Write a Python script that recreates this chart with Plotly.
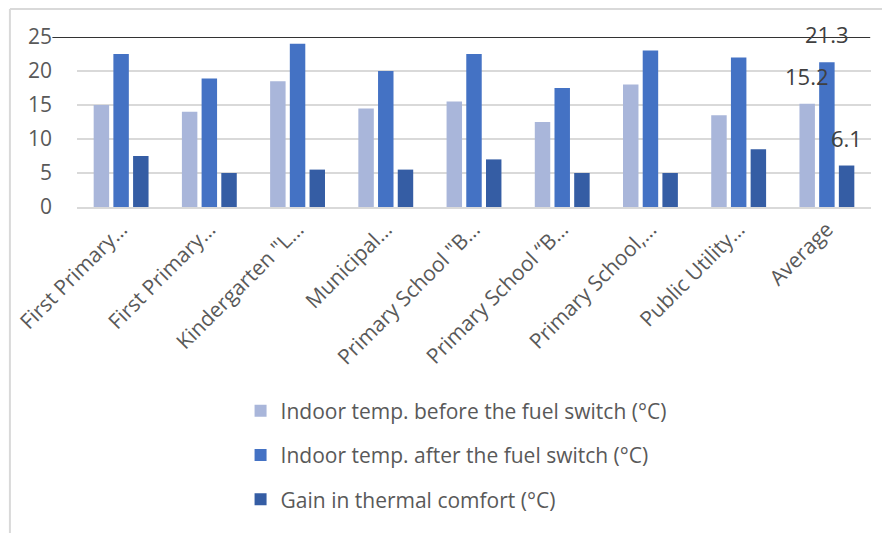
import plotly.graph_objects as go

categories = ["First Primary…", "First Primary…", "Kindergarten \"L…", "Municipal…",
              "Primary School \"B…", "Primary School “B…", "Primary School,…",
              "Public Utility…", "Average"]
before = [15.0, 14.0, 18.5, 14.5, 15.5, 12.5, 18.0, 13.5, 15.2]
after = [22.5, 18.9, 24.0, 20.0, 22.5, 17.5, 23.0, 22.0, 21.3]
gain = [7.5, 5.0, 5.5, 5.5, 7.0, 5.0, 5.0, 8.5, 6.1]
series_names = ["Indoor temp. before the fuel switch (°C)",
                "Indoor temp. after the fuel switch (°C)",
                "Gain in thermal comfort (°C)"]
colors = ["#A9B6DA", "#4472C4", "#355DA4"]
yticks = [0, 5, 10, 15, 20, 25]

x = list(range(len(categories)))
FONT = "Open Sans, Lato, sans-serif"
GRAY = "#595959"

fig = go.Figure()
for i, (name, vals, col) in enumerate(zip(series_names, [before, after, gain], colors)):
    fig.add_trace(go.Bar(x=x, y=vals, name=name, marker_color=col,
                         marker_line_width=0, legendgroup=f"g{i}"))

# data labels only for the "Average" category
last = len(categories) - 1
for shift, vals in zip([-20, 0, 20], [before, after, gain]):
    fig.add_annotation(x=last, y=vals[last], text=f"{vals[last]:.1f}", showarrow=False,
                       xshift=shift, yshift=28, font=dict(family=FONT, size=22, color="#404040"))

# dark line at top of axis
fig.add_shape(type="line", xref="paper", yref="y", x0=-0.031, x1=0.999, y0=25, y1=25,
              line=dict(color="#333333", width=2.2), layer="above")
# frame lines (left and top)
fig.add_shape(type="line", xref="paper", yref="paper", x0=-0.0845, x1=-0.0845, y0=-1.92, y1=1.164,
              line=dict(color="#D9D9D9", width=2))
fig.add_shape(type="line", xref="paper", yref="paper", x0=-0.0845, x1=1.1, y0=1.164, y1=1.164,
              line=dict(color="#D9D9D9", width=2))

fig.update_layout(
    width=882, height=525,
    margin=dict(l=69, r=19, t=29, b=326, autoexpand=False),
    paper_bgcolor="white", plot_bgcolor="white",
    barmode="group", bargap=0.33, bargroupgap=0.215,
    font=dict(family=FONT, color=GRAY),
    showlegend=True,
    legend=dict(orientation="v", x=0.206, xanchor="left", y=-1.08, yanchor="top",
                font=dict(family=FONT, size=21, color=GRAY), tracegroupgap=14,
                bgcolor="rgba(0,0,0,0)"),
)
fig.update_xaxes(range=[-0.5, len(categories) - 0.5], tickmode="array", tickvals=x,
                 ticktext=categories, tickangle=-45, tickfont=dict(size=21, color=GRAY),
                 showgrid=False, showline=True, linecolor="#D9D9D9", linewidth=1.5,
                 zeroline=False, ticks="", automargin=False)
fig.update_yaxes(range=[0, 25], tickvals=yticks, tickfont=dict(size=21, color=GRAY),
                 showgrid=True, gridcolor="#D9D9D9", gridwidth=1.5, zeroline=False,
                 showline=False, ticklabelstandoff=24, automargin=False)

fig.write_html("out.html")
